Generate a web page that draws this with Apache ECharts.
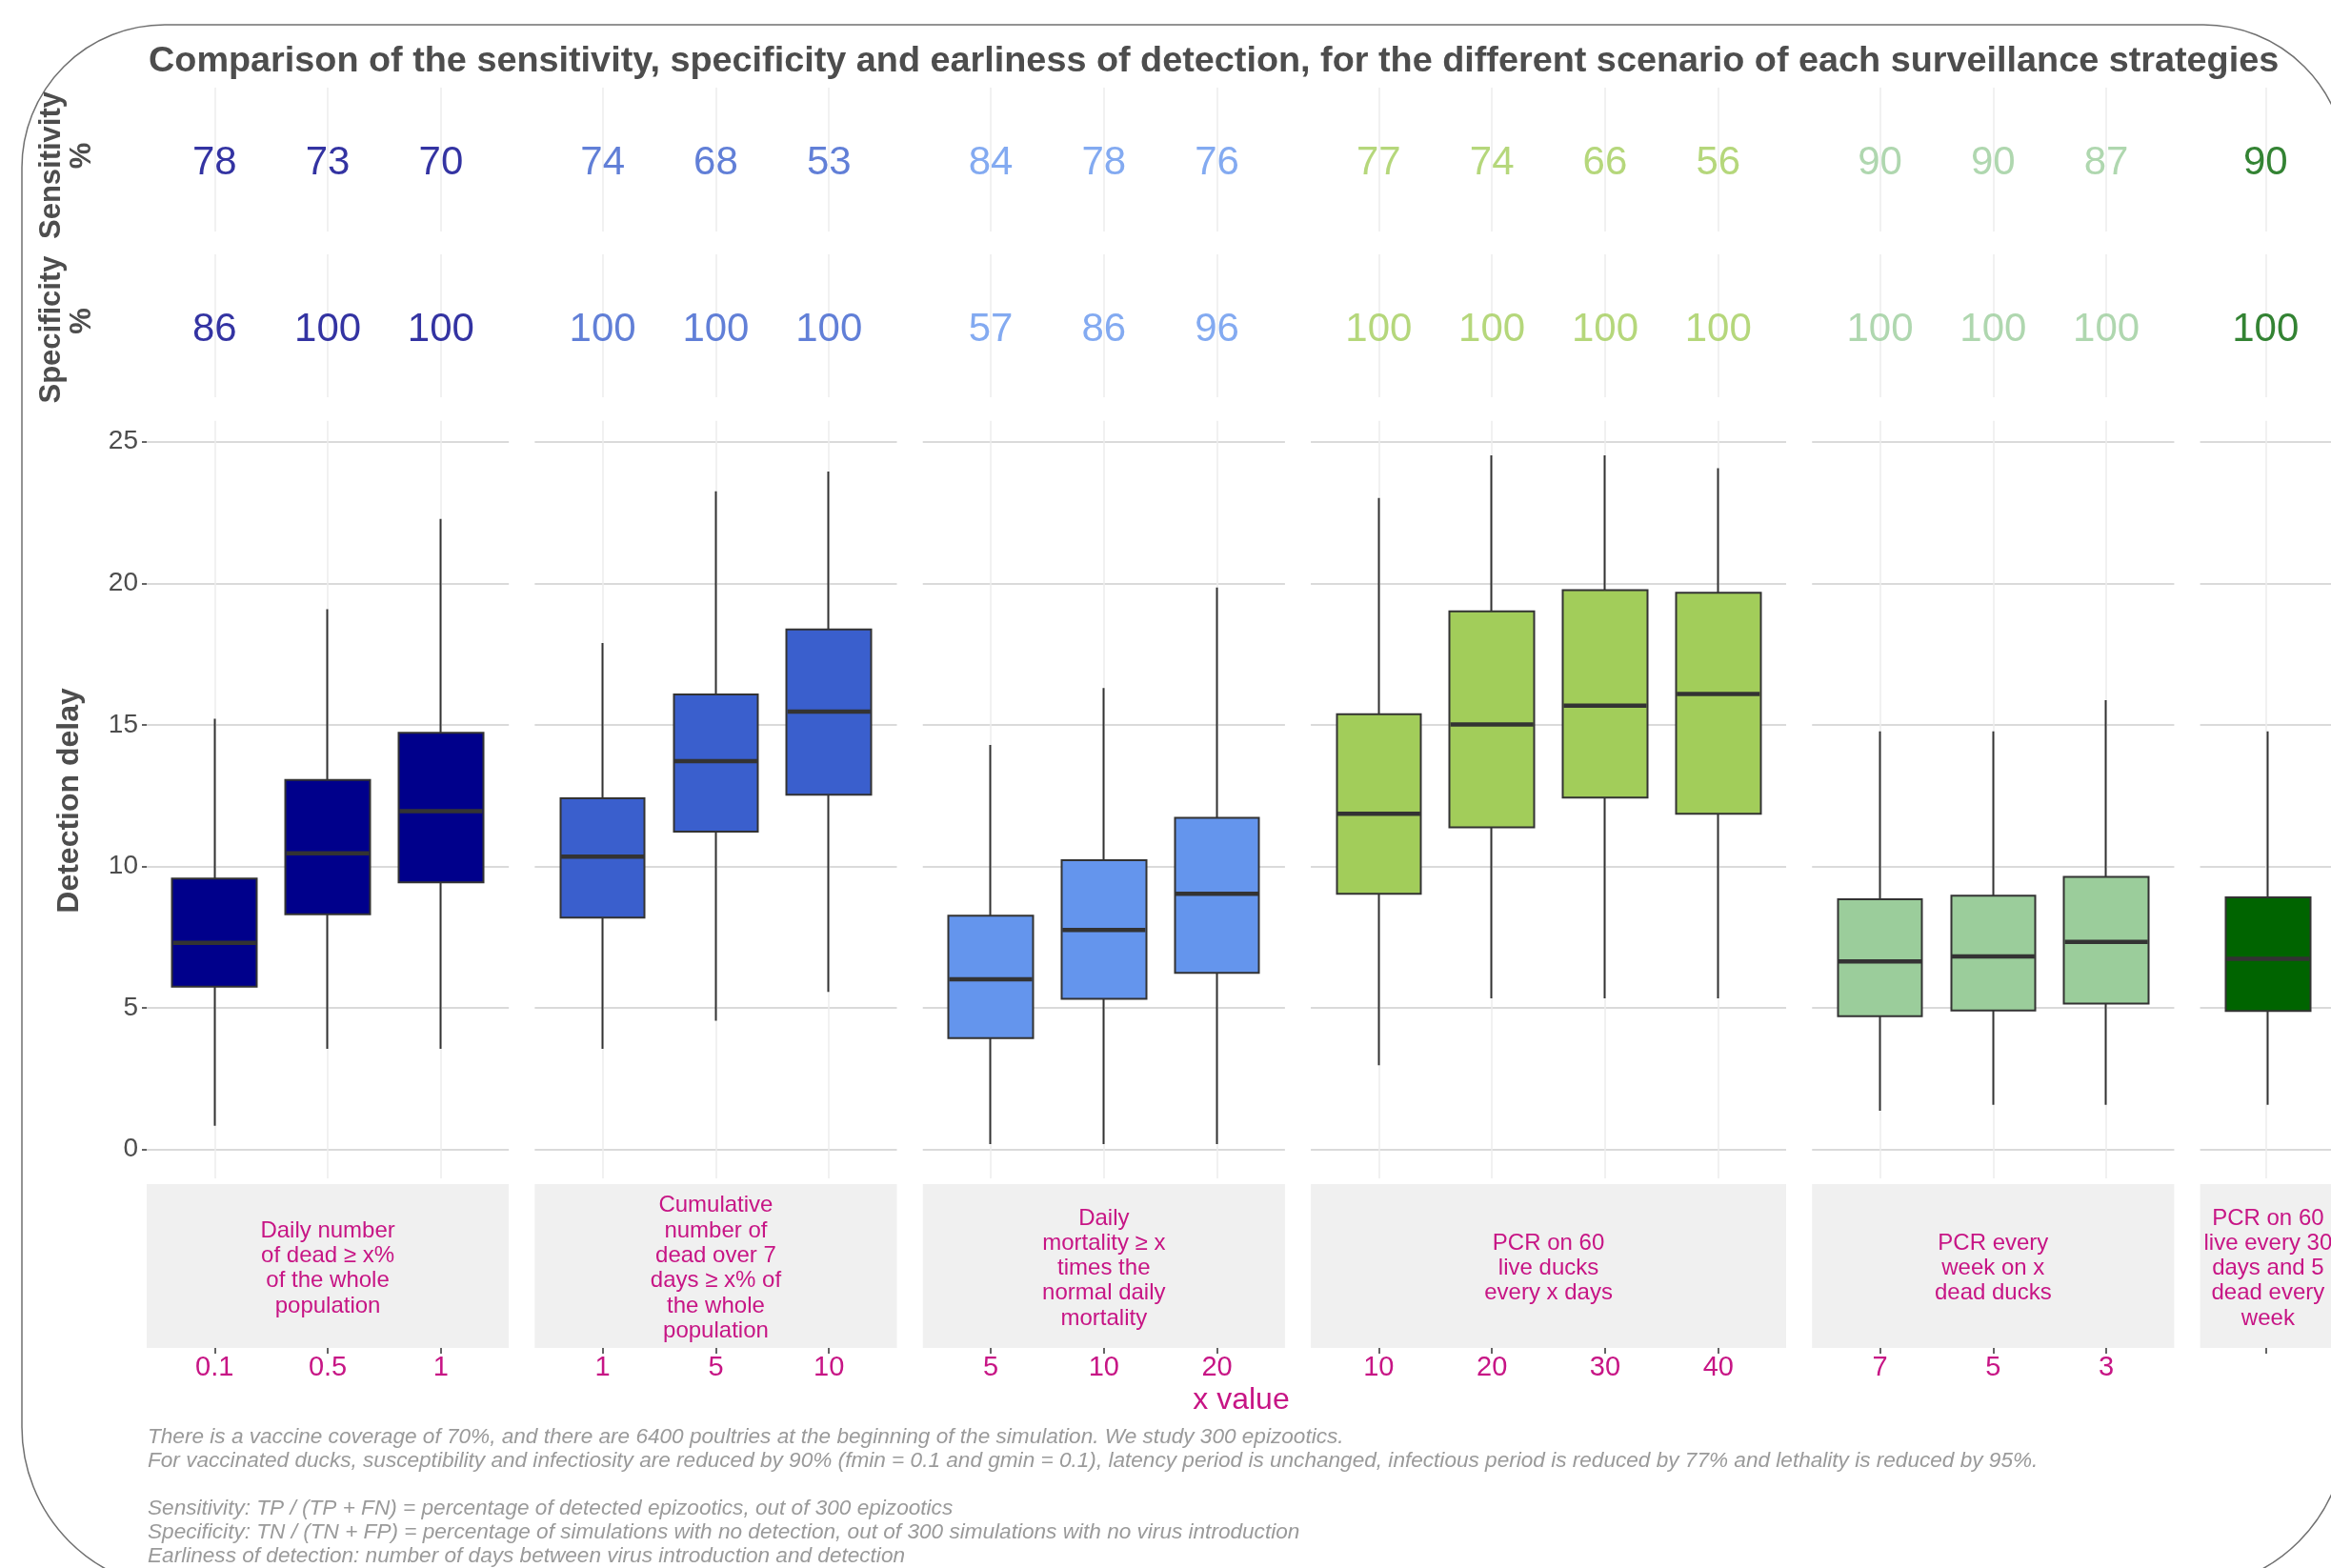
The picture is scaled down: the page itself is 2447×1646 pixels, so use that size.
<!DOCTYPE html>
<html>
<head>
<meta charset="utf-8">
<script src="https://cdn.jsdelivr.net/npm/echarts@6/dist/echarts.min.js"></script>
<style>
    html, body { margin: 0; padding: 0; background: #fff; }
    #chart { width: 2447px; height: 1646px; }
</style>
</head>
<body>
<div id="chart"></div>
<script>
// Surveillance strategies (one facet each) and the x value of their scenarios
const strategies = [
    'Daily number\nof dead ≥ x%\nof the whole\npopulation',
    'Cumulative\nnumber of\ndead over 7\ndays ≥ x% of\nthe whole\npopulation',
    'Daily\nmortality ≥ x\ntimes the\nnormal daily\nmortality',
    'PCR on 60\nlive ducks\nevery x days',
    'PCR every\nweek on x\ndead ducks',
    'PCR on 60\nlive every 30\ndays and 5\ndead every\nweek'
]
const xLabels = [
    ['0.1', '0.5', '1'],
    ['1', '5', '10'],
    ['5', '10', '20'],
    ['10', '20', '30', '40'],
    ['7', '5', '3'],
    ['']
]
const strategyColors = ['#00008B', '#3A5FCD', '#6495ED', '#A2CD5A', '#9BCD9B', '#006400']

// Sensitivity / specificity (%)
const sensitivity = [[78, 73, 70], [74, 68, 53], [84, 78, 76], [77, 74, 66, 56], [90, 90, 87], [90]]
const specificity = [[86, 100, 100], [100, 100, 100], [57, 86, 96], [100, 100, 100, 100], [100, 100, 100], [100]]

// Detection delay (days): whiskers, quartiles and median
const whiskerLow = [[0.84, 3.55, 3.55], [3.55, 4.55, 5.56], [0.19, 0.19, 0.19], [2.97, 5.34, 5.34, 5.34], [1.37, 1.58, 1.58], [1.58]]
const q1 = [[5.75, 8.31, 9.43], [8.19, 11.23, 12.53], [3.93, 5.32, 6.24], [9.03, 11.38, 12.43, 11.86], [4.71, 4.91, 5.15], [4.89]]
const median = [[7.30, 10.46, 11.95], [10.34, 13.72, 15.47], [6.01, 7.75, 9.03], [11.86, 15.01, 15.68, 16.09], [6.64, 6.82, 7.33], [6.73]]
const q3 = [[9.57, 13.05, 14.72], [12.40, 16.07, 18.37], [8.26, 10.22, 11.71], [15.37, 19.01, 19.76, 19.66], [8.84, 8.96, 9.63], [8.90]]
const whiskerHigh = [[15.21, 19.08, 22.27], [17.89, 23.25, 23.95], [14.29, 16.30, 19.85], [23.01, 24.52, 24.52, 24.06], [14.77, 14.77, 15.87], [14.77]]
const delayTicks = [0, 5, 10, 15, 20, 25]

const footnotes = [
    'There is a vaccine coverage of 70%, and there are 6400 poultries at the beginning of the simulation. We study 300 epizootics.',
    'For vaccinated ducks, susceptibility and infectiosity are reduced by 90% (fmin = 0.1 and gmin = 0.1), latency period is unchanged, infectious period is reduced by 77% and lethality is reduced by 95%.',
    '',
    'Sensitivity: TP / (TP + FN) = percentage of detected epizootics, out of 300 epizootics',
    'Specificity: TN / (TN + FP) = percentage of simulations with no detection, out of 300 simulations with no virus introduction',
    'Earliness of detection: number of days between virus introduction and detection'
]
const titleText = 'Comparison of the sensitivity, specificity and earliness of detection, for the different scenario of each surveillance strategies'

const FONT = 'Liberation Sans, Arial, sans-serif'
const MAGENTA = '#C71585'
const GREY = '#4D4D4D'

// layout (px)
const STEP = 118.8      // distance between two scenarios
const GAP = 27.2        // space between facets
const X0 = 154
const ROWS = {
    sens: [92, 151],
    spec: [267, 150],
    box: [441.8, 795.3],
    strip: [1243, 172]
}

// y range like ggplot: 5% expansion of the data range
const allDelay = [].concat(...whiskerLow, ...whiskerHigh)
const dLo = Math.min(...allDelay)
const dHi = Math.max(...allDelay)
const yMin = dLo - 0.05 * (dHi - dLo)
const yMax = dHi + 0.05 * (dHi - dLo)

const grid = []
const xAxis = []
const yAxis = []
const series = []
const graphic = []

let left = X0
strategies.forEach((name, i) => {
    const n = xLabels[i].length
    const W = (n + 0.2) * STEP
    const idx = xLabels[i].map((_, k) => k)
    const g = i * 5
    const color = strategyColors[i]

    const addGrid = (row, l, w, extra) => grid.push(Object.assign(
        { left: l, width: w, top: ROWS[row][0], height: ROWS[row][1] }, extra || {}))
    addGrid('sens', left, W)
    addGrid('spec', left, W)
    addGrid('box', left, W)
    addGrid('box', left + 0.1 * STEP, n * STEP)
    addGrid('strip', left, W, { show: true, backgroundColor: '#F0F0F0', borderWidth: 0 })

    const frameX = (gi) => ({
        type: 'value', gridIndex: gi, min: -0.6, max: n - 0.4,
        axisLine: { show: false, onZero: false },
        axisTick: { show: false, customValues: idx },
        axisLabel: { show: false, customValues: idx },
        splitLine: { show: true, lineStyle: { color: '#EDEDED', width: 1.5 } }
    })
    const hiddenY = (gi, min, max) => ({ type: 'value', gridIndex: gi, min: min, max: max, show: false })

    // sensitivity & specificity rows
    xAxis.push(frameX(g)); yAxis.push(hiddenY(g, 0, 1))
    xAxis.push(frameX(g + 1)); yAxis.push(hiddenY(g + 1, 0, 1))
    ;[sensitivity[i], specificity[i]].forEach((vals, r) => {
        series.push({
            type: 'scatter', xAxisIndex: g + r, yAxisIndex: g + r, silent: true,
            symbolSize: 1, itemStyle: { color: 'rgba(0,0,0,0)' },
            data: vals.map((v, k) => [k, 0.5, v]),
            label: {
                show: true, position: 'inside', offset: [0, 4], formatter: p => p.value[2],
                fontSize: 42, fontFamily: FONT, color: color
            }
        })
    })

    // detection delay frame (grid lines, y axis on first facet)
    xAxis.push(frameX(g + 2))
    yAxis.push({
        type: 'value', gridIndex: g + 2, min: yMin, max: yMax,
        axisLine: { show: false, onZero: false },
        axisTick: { show: i === 0, inside: false, length: 5, customValues: delayTicks, lineStyle: { color: '#333333', width: 1.5 } },
        axisLabel: { show: i === 0, customValues: delayTicks, fontSize: 28, fontFamily: FONT, color: GREY, margin: 9 },
        splitLine: { show: true, lineStyle: { color: '#DADADA', width: 2 } }
    })

    // boxes
    xAxis.push({ type: 'category', gridIndex: g + 3, data: xLabels[i], show: false })
    yAxis.push(hiddenY(g + 3, yMin, yMax))
    series.push({
        type: 'candlestick', xAxisIndex: g + 3, yAxisIndex: g + 3, silent: true,
        barWidth: 0.75 * STEP,
        itemStyle: { color: color, color0: color, borderColor: '#333333', borderColor0: '#333333', borderWidth: 2 },
        data: q1[i].map((v, k) => [v, q3[i][k], whiskerLow[i][k], whiskerHigh[i][k]])
    })
    series.push({
        type: 'scatter', xAxisIndex: g + 3, yAxisIndex: g + 3, silent: true, z: 5,
        symbol: 'rect', symbolSize: [0.75 * STEP - 2, 4.5],
        itemStyle: { color: '#333333', opacity: 1 },
        data: median[i].map((m, k) => [k, m])
    })

    // strip + x axis
    xAxis.push({
        type: 'value', gridIndex: g + 4, min: -0.6, max: n - 0.4, position: 'bottom',
        axisLine: { show: false, onZero: false },
        axisTick: { show: true, inside: false, length: 6, customValues: idx, lineStyle: { color: '#333333', width: 1.5 } },
        axisLabel: {
            customValues: idx, formatter: v => xLabels[i][Math.round(v)],
            fontSize: 29, fontFamily: FONT, color: MAGENTA, margin: 6
        },
        splitLine: { show: false }
    })
    yAxis.push(hiddenY(g + 4, 0, 1))
    graphic.push({
        type: 'text', x: left + W / 2, y: ROWS.strip[0] + ROWS.strip[1] / 2 + 2.5,
        style: {
            text: name, fontSize: 24, fontFamily: FONT, fill: MAGENTA,
            align: 'center', verticalAlign: 'middle', lineHeight: 26.3
        }
    })

    left += W + GAP
})

// frame, title, axis titles, notes
graphic.push({
    type: 'rect', z: -1,
    shape: { x: 23, y: 26, width: 2440, height: 1642, r: [150, 150, 170, 170] },
    style: { fill: 'none', stroke: '#707070', lineWidth: 1.5 }
})
graphic.push({
    type: 'text', x: 156, y: 65,
    style: { text: titleText, fontSize: 37.8, fontWeight: 'bold', fontFamily: FONT, fill: GREY, align: 'left', verticalAlign: 'middle' }
})
const rowLabel = (text, xc, yc) => ({
    type: 'text', x: xc, y: yc, rotation: Math.PI / 2,
    style: { text: text, fontSize: 31, fontWeight: 'bold', fontFamily: FONT, fill: GREY, align: 'center', verticalAlign: 'middle' }
})
graphic.push(rowLabel('Sensitivity', 54.5, 173.5))
graphic.push(rowLabel('%', 86.5, 163.5))
graphic.push(rowLabel('Specificity', 54.5, 346))
graphic.push(rowLabel('%', 86.5, 337))
graphic.push({
    type: 'text', x: 73, y: ROWS.box[0] + ROWS.box[1] / 2 + 1, rotation: Math.PI / 2,
    style: { text: 'Detection delay', fontSize: 32, fontWeight: 'bold', fontFamily: FONT, fill: GREY, align: 'center', verticalAlign: 'middle' }
})
graphic.push({
    type: 'text', x: 1303, y: 1470,
    style: { text: 'x value', fontSize: 32, fontFamily: FONT, fill: MAGENTA, align: 'center', verticalAlign: 'middle' }
})
graphic.push({
    type: 'text', x: 155, y: 1496.5,
    style: {
        text: footnotes.join('\n'), fontSize: 22.6, fontStyle: 'italic', fontFamily: FONT,
        fill: '#9A9A9A', align: 'left', verticalAlign: 'top', lineHeight: 25
    }
})

const chart = echarts.init(document.getElementById('chart'), null, { renderer: 'canvas' })
chart.setOption({
    backgroundColor: '#FFFFFF',
    animation: false,
    grid, xAxis, yAxis, series, graphic
})
</script>
</body>
</html>
